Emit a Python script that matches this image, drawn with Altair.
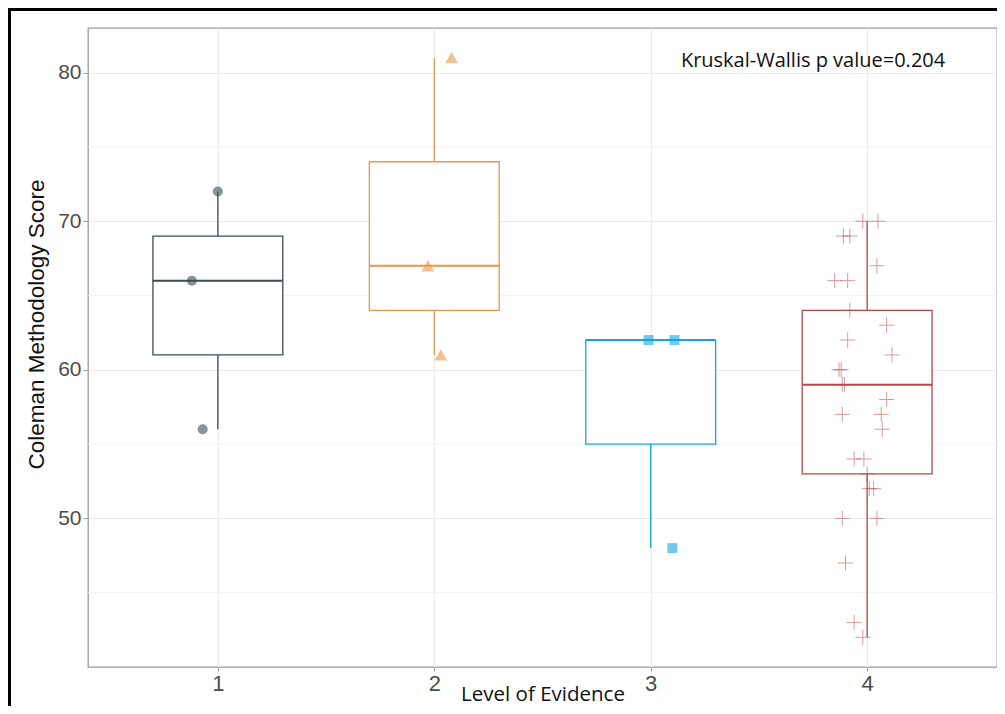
import altair as alt
import pandas as pd

# ---- data ----
levels = [1, 2, 3, 4]
box_colors = ["#3b4c55", "#e8974a", "#15a5dd", "#b8474c"]
point_shapes = ["circle", "triangle-up", "square", "M-1,0L1,0M0,-1L0,1"]
point_sizes = [100, 170, 100, 225]

g1_scores = [72, 66, 56]
g1_xpos = [1.00, 0.88, 0.93]
g2_scores = [81, 67, 61]
g2_xpos = [2.08, 1.97, 2.03]
g3_scores = [62, 62, 48]
g3_xpos = [2.99, 3.11, 3.10]
g4_scores = [70, 70, 69, 69, 67, 66, 66, 64, 63, 62, 61, 60, 60, 59, 59, 58,
             57, 57, 56, 54, 54, 53, 52, 52, 50, 50, 47, 43, 42]
g4_offsets = [-0.02, 0.05, -0.11, -0.08, 0.045, -0.15, -0.09, -0.08, 0.09, -0.09,
              0.115, -0.13, -0.12, -0.115, -0.105, 0.09, -0.115, 0.065, 0.07,
              -0.06, -0.015, 0.0, 0.01, 0.03, -0.115, 0.045, -0.10, -0.06, -0.02]
g4_xpos = [4 + o for o in g4_offsets]

y_major = [50, 60, 70, 80]
y_minor = [45, 55, 65, 75]
annotation = ["Kruskal-Wallis p value=0.204"]
ann_x = [3.75]
ann_y = [80.35]

groups = [(1, g1_scores, g1_xpos), (2, g2_scores, g2_xpos),
          (3, g3_scores, g3_xpos), (4, g4_scores, g4_xpos)]
rows = []
for g, sc, xp in groups:
    for s, x in zip(sc, xp):
        rows.append({"g": g, "score": s, "jx": x})
df = pd.DataFrame(rows)

# ---- shared encodings ----
x_scale = alt.Scale(domain=[0.4, 4.6], nice=False, zero=False)
y_scale = alt.Scale(domain=[40, 83], nice=False, zero=False)
x_axis = alt.Axis(values=levels, format="d", title="Level of Evidence",
                  grid=True, gridColor="#ebebeb", gridWidth=1.2,
                  domain=False, tickColor="#9a9a9a", tickSize=4,
                  labelFont="Liberation Sans", labelFontSize=22,
                  labelColor="#4d4d4d", labelPadding=2,
                  titleFont="Open Sans", titleFontSize=20.5, titleFontWeight="normal",
                  titleColor="#111111", titleY=33, titleBaseline="alphabetic")
y_axis = alt.Axis(values=y_major, format="d", title="Coleman Methodology Score",
                  grid=True, gridColor="#ebebeb", gridWidth=1.2,
                  domain=False, tickColor="#9a9a9a", tickSize=5,
                  labelFont="Liberation Sans", labelFontSize=21,
                  labelColor="#4d4d4d", labelPadding=2,
                  titleFont="Liberation Sans", titleFontSize=22.5,
                  titleFontWeight="normal", titleColor="#111111",
                  titleX=-45, titleY=296, titleAlign="center",
                  titleBaseline="alphabetic", titleAngle=270)

stroke_enc = alt.Stroke("g:N", scale=alt.Scale(domain=levels, range=box_colors),
                        legend=None)

base = alt.Chart(df)

minor = alt.Chart(pd.DataFrame({"y": y_minor})).mark_rule(
    color="#f1f1f1", strokeWidth=0.9).encode(
    y=alt.Y("y:Q", scale=y_scale, axis=y_axis))

stats = base.transform_aggregate(
    q1="q1(score)", med="median(score)", q3="q3(score)",
    lo="min(score)", hi="max(score)", groupby=["g"]
).transform_calculate(xl="datum.g - 0.3", xr="datum.g + 0.3")

whisk_hi = stats.mark_rule(strokeWidth=1.3).encode(
    x=alt.X("g:Q", scale=x_scale, axis=x_axis),
    y=alt.Y("q3:Q", scale=y_scale, axis=y_axis), y2="hi:Q", stroke=stroke_enc)
whisk_lo = stats.mark_rule(strokeWidth=1.3).encode(
    x=alt.X("g:Q", scale=x_scale, axis=x_axis),
    y=alt.Y("q1:Q", scale=y_scale, axis=y_axis), y2="lo:Q", stroke=stroke_enc)
boxes = stats.mark_rect(fill="white", strokeWidth=1.3).encode(
    x=alt.X("xl:Q", scale=x_scale, axis=x_axis), x2="xr:Q",
    y=alt.Y("q1:Q", scale=y_scale, axis=y_axis), y2="q3:Q", stroke=stroke_enc)
medians = stats.mark_rule(strokeWidth=2).encode(
    x=alt.X("xl:Q", scale=x_scale, axis=x_axis), x2="xr:Q",
    y=alt.Y("med:Q", scale=y_scale, axis=y_axis), stroke=stroke_enc)

point_layers = []
for i, g in enumerate(levels):
    sub = df[df["g"] == g]
    if i == 3:
        mk = alt.Chart(sub).mark_point(shape=point_shapes[i], size=point_sizes[i],
                                       filled=False, stroke=box_colors[i],
                                       strokeWidth=1, opacity=0.55)
    else:
        mk = alt.Chart(sub).mark_point(shape=point_shapes[i], size=point_sizes[i],
                                       filled=True, fill=box_colors[i],
                                       strokeWidth=0, opacity=0.6)
    point_layers.append(mk.encode(
        x=alt.X("jx:Q", scale=x_scale, axis=x_axis),
        y=alt.Y("score:Q", scale=y_scale, axis=y_axis)))

ann = alt.Chart(pd.DataFrame({"t": annotation, "x": ann_x, "y": ann_y})).mark_text(
    font="Open Sans", fontSize=20, color="#111111", align="center",
    baseline="alphabetic").encode(
    x=alt.X("x:Q", scale=x_scale, axis=x_axis),
    y=alt.Y("y:Q", scale=y_scale, axis=y_axis), text="t:N")

one = pd.DataFrame({"a": [0]})
frame_top = alt.Chart(one).mark_rule(color="black", strokeWidth=3).encode(
    x=alt.value(-80), x2=alt.value(930), y=alt.value(-18.5))
frame_left = alt.Chart(one).mark_rule(color="black", strokeWidth=3).encode(
    x=alt.value(-78.5), y=alt.value(-20), y2=alt.value(700))

chart = alt.layer(
    minor, whisk_hi, whisk_lo, boxes, medians, *point_layers, ann,
    frame_top, frame_left
).properties(
    width=909, height=639,
    autosize=alt.AutoSizeParams(type="none"),
    padding={"left": 80, "top": 20, "right": 0, "bottom": 39},
    background="white",
).configure_view(stroke="#9a9a9a", strokeWidth=1.3)

chart.save("out.html", embed_options={"renderer": "svg", "actions": False})
